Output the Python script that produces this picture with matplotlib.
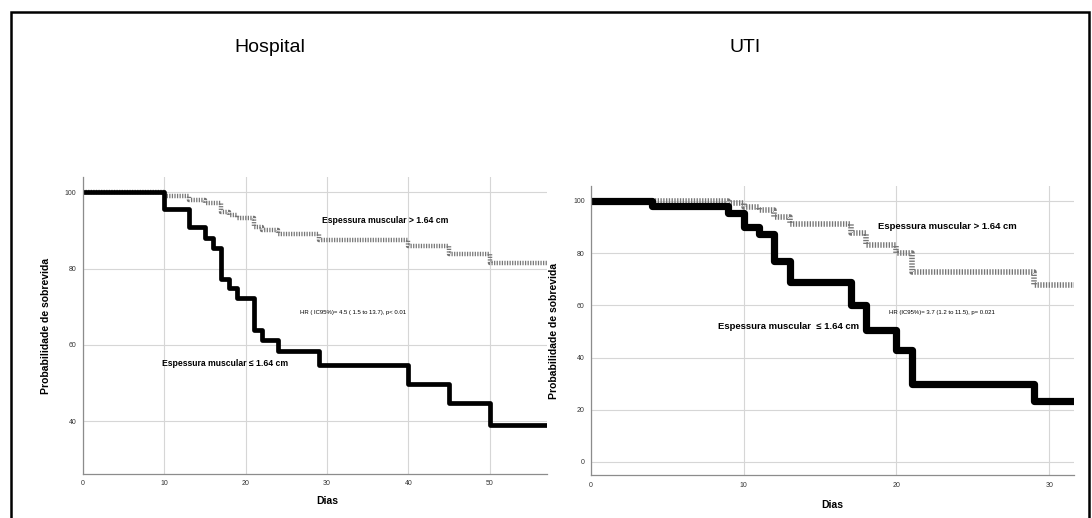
import matplotlib.pyplot as plt
from matplotlib.patches import Rectangle

plt.rcParams['font.family'] = ['Liberation Sans', 'DejaVu Sans']

# Hospital curves (days, survival %)
hosp_low_days = [0, 10, 13, 15, 16, 17, 18, 19, 21, 22, 24, 29, 40, 45, 50, 57]
hosp_low_surv = [100, 95.5, 90.9, 88.0, 85.4, 77.3, 74.8, 72.4, 63.8, 61.2, 58.4, 54.8, 49.9, 44.9, 39.1, 39.1]
hosp_high_days = [0, 10, 13, 15, 17, 18, 19, 21, 22, 24, 29, 40, 45, 50, 57]
hosp_high_surv = [100, 99.1, 98.0, 97.3, 94.9, 94.0, 93.2, 90.8, 90.1, 89.0, 87.5, 85.9, 83.8, 81.4, 81.4]

# UTI curves
uti_low_days = [0, 4, 9, 10, 11, 12, 13, 17, 18, 20, 21, 29, 31.6]
uti_low_surv = [100, 98.2, 95.5, 90.1, 87.2, 76.9, 69.0, 60.0, 50.4, 43.0, 29.8, 23.2, 23.2]
uti_high_days = [0, 9, 10, 11, 12, 13, 17, 18, 20, 21, 29, 31.6]
uti_high_surv = [100, 99.2, 97.6, 96.5, 94.0, 91.0, 87.6, 83.1, 79.9, 72.6, 67.7, 67.7]

hosp_xticks = [0, 10, 20, 30, 40, 50]
hosp_yticks = [40, 60, 80, 100]
uti_xticks = [0, 10, 20, 30]
uti_yticks = [0, 20, 40, 60, 80, 100]

W, H = 1092, 518
fig = plt.figure(figsize=(W / 100, H / 100), dpi=100)

# outer frame
fig.patches.append(Rectangle((11 / W, -0.02), (1089 - 11) / W, 1 - 12 / H + 0.02,
                             transform=fig.transFigure, fill=False,
                             edgecolor='black', linewidth=1.8))


def px_axes(x0, y0, x1, y1):
    return fig.add_axes([x0 / W, 1 - y1 / H, (x1 - x0) / W, (y1 - y0) / H])


def style(ax, xticks, yticks, xlim, ylim):
    ax.set_xlim(*xlim)
    ax.set_ylim(*ylim)
    ax.set_xticks(xticks)
    ax.set_yticks(yticks)
    ax.grid(True, color='#d6d6d6', linewidth=0.8)
    ax.set_axisbelow(True)
    for s in ['top', 'right']:
        ax.spines[s].set_visible(False)
    for s in ['left', 'bottom']:
        ax.spines[s].set_color('#8c8c8c')
        ax.spines[s].set_linewidth(0.9)
    ax.tick_params(length=0, labelsize=5, labelcolor='#333333', pad=4.5)
    ax.set_xlabel('Dias', fontsize=7.5, fontweight='bold', labelpad=8)
    ax.set_ylabel('Probabilidade de sobrevida', fontsize=7.5, fontweight='bold', labelpad=10)


ax1 = px_axes(82.7, 177, 546.7, 474)
ax1.step(hosp_high_days, hosp_high_surv, where='post', color='#767676',
         linewidth=3.2, linestyle=(0, (0.28, 0.3)), solid_capstyle='butt')
ax1.step(hosp_low_days, hosp_low_surv, where='post', color='black', linewidth=3.4,
         solid_capstyle='projecting')
style(ax1, hosp_xticks, hosp_yticks, (0, 57), (26.2, 104))
ax1.xaxis.set_label_coords(0.527, -0.075)
ax1.text(29.4, 92.5, 'Espessura muscular > 1.64 cm', fontsize=6.2, fontweight='bold', va='center')
ax1.text(26.7, 68.4, 'HR ( IC95%)= 4.5 ( 1.5 to 13.7), p< 0.01', fontsize=4.3, va='center')
ax1.text(9.7, 55.2, 'Espessura muscular \u2264 1.64 cm', fontsize=6.2, fontweight='bold', va='center')

ax2 = px_axes(591, 186, 1073.6, 475.3)
ax2.step(uti_high_days, uti_high_surv, where='post', color='#767676',
         linewidth=4.0, linestyle=(0, (0.24, 0.26)), solid_capstyle='butt')
ax2.step(uti_low_days, uti_low_surv, where='post', color='black', linewidth=5.2)
style(ax2, uti_xticks, uti_yticks, (0, 31.6), (-5.1, 105.7))
ax2.text(18.8, 90, 'Espessura muscular > 1.64 cm', fontsize=6.8, fontweight='bold', va='center')
ax2.text(19.5, 57.1, 'HR (IC95%)= 3.7 (1.2 to 11.5), p= 0.021', fontsize=4.3, va='center')
ax2.text(8.3, 51.7, 'Espessura muscular  \u2264 1.64 cm', fontsize=6.8, fontweight='bold', va='center')

fig.text(270 / W, 1 - 47 / H, 'Hospital', fontsize=14, ha='center', va='center')
fig.text(745 / W, 1 - 47 / H, 'UTI', fontsize=14, ha='center', va='center')

fig.savefig('out.png', dpi=100)
